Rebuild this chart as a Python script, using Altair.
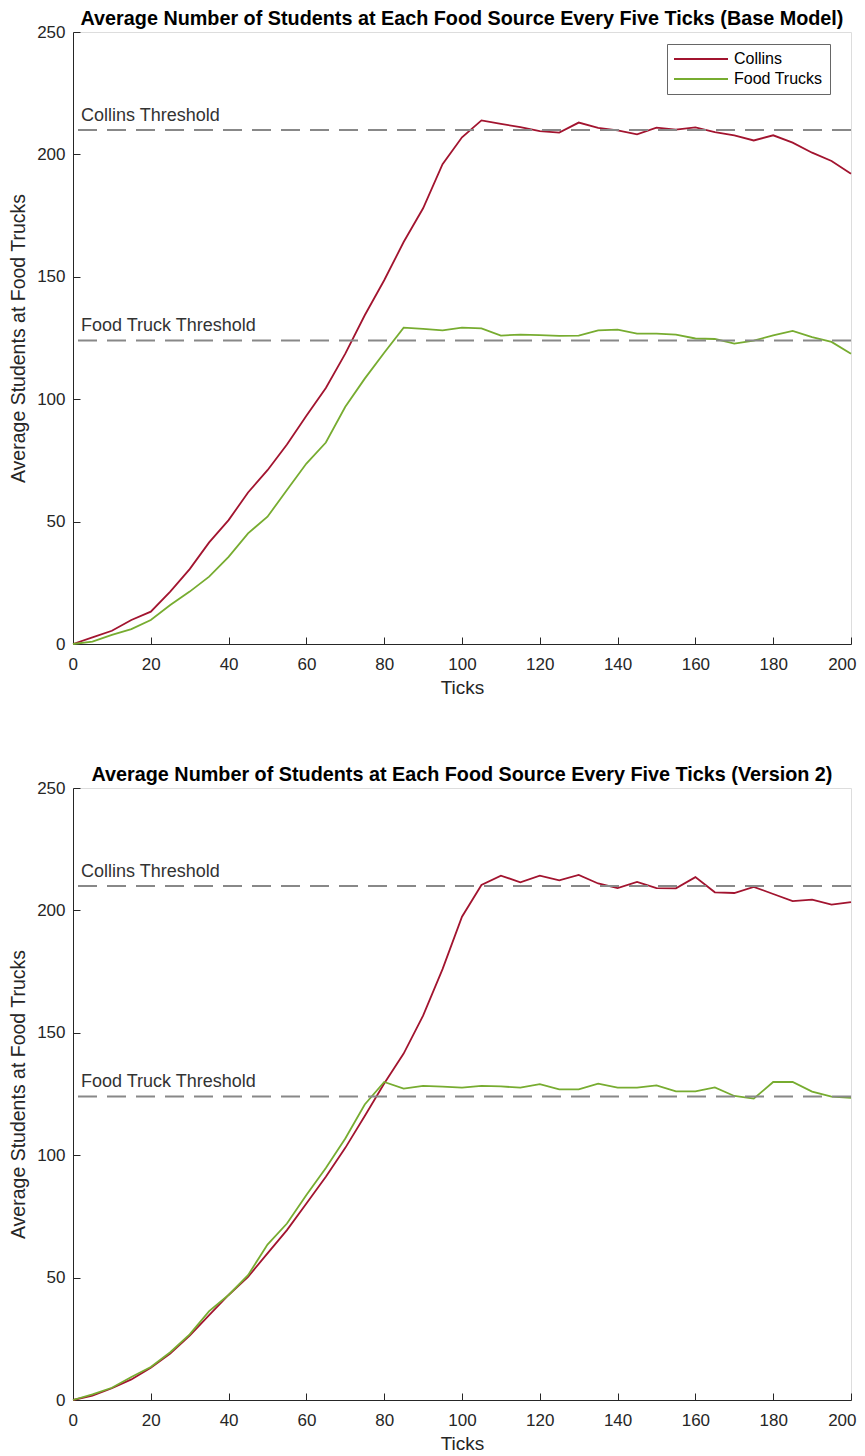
import altair as alt
import pandas as pd

# ---------------- data ----------------
ticks = [0, 5, 10, 15, 20, 25, 30, 35, 40, 45, 50, 55, 60, 65, 70, 75, 80, 85, 90, 95, 100,
         105, 110, 115, 120, 125, 130, 135, 140, 145, 150, 155, 160, 165, 170, 175, 180,
         185, 190, 195, 200]

base_collins = [0, 2.7, 5.4, 9.8, 13.2, 21.4, 30.6, 41.5, 50.6, 61.9, 71.0, 81.5, 93.2, 104.6,
                118.6, 134.3, 148.6, 164.2, 178.0, 196.0, 207.0, 213.9, 212.5, 211.1, 209.5,
                208.9, 213.0, 210.8, 209.8, 208.2, 210.9, 210.1, 211.0, 209.1, 207.8, 205.7,
                207.8, 204.8, 200.7, 197.3, 192.1]
base_trucks = [0, 1.0, 3.7, 6.1, 9.8, 15.9, 21.4, 27.5, 35.6, 45.2, 52.0, 62.9, 73.7, 82.3,
               96.9, 108.4, 119.0, 129.2, 128.7, 128.1, 129.2, 128.9, 126.0, 126.4, 126.2,
               125.9, 126.0, 128.1, 128.4, 126.8, 126.8, 126.4, 124.8, 124.6, 122.7, 123.9,
               126.1, 127.9, 125.4, 123.4, 118.6]

v2_collins = [0, 1.8, 4.8, 8.4, 13.2, 19.0, 26.3, 34.7, 42.9, 50.3, 59.9, 69.4, 80.3, 91.2,
              103.0, 116.0, 129.3, 141.5, 157.0, 176.0, 197.4, 210.4, 214.2, 211.5, 214.2,
              212.3, 214.5, 211.0, 209.1, 211.6, 209.1, 209.0, 213.6, 207.4, 207.1, 209.6,
              206.7, 203.8, 204.4, 202.4, 203.4]
v2_trucks = [0, 2.3, 5.0, 9.4, 13.5, 19.5, 26.8, 36.3, 42.9, 51.0, 63.5, 72.1, 83.7, 94.8,
             106.8, 120.7, 129.9, 127.2, 128.3, 128.0, 127.6, 128.3, 128.1, 127.6, 129.0,
             126.9, 126.9, 129.2, 127.6, 127.6, 128.5, 126.1, 126.1, 127.7, 124.2, 123.1,
             129.9, 129.9, 126.0, 123.9, 123.4]

series_names = ["Collins", "Food Trucks"]
series_colors = ["#A2142F", "#77AC30"]

threshold_values = [210, 124]
threshold_labels = ["Collins Threshold", "Food Truck Threshold"]
threshold_label_x = [0, 0]

x_tick_values = [0, 20, 40, 60, 80, 100, 120, 140, 160, 180, 200]
y_tick_values = [0, 50, 100, 150, 200, 250]

panel_titles = [
    "Average Number of Students at Each Food Source Every Five Ticks (Base Model)",
    "Average Number of Students at Each Food Source Every Five Ticks (Version 2)",
]

# ---------------- styling ----------------
FONT = "Liberation Sans"
W, H = 778, 612
AXIS_COLOR = "#262626"


def panel(title, collins, trucks):
    n = len(ticks)
    df = pd.DataFrame({
        "tick": ticks + ticks,
        "value": collins + trucks,
        "series": [series_names[0]] * n + [series_names[1]] * n,
    })
    thr = pd.DataFrame({"y": threshold_values, "label": threshold_labels,
                        "x": threshold_label_x})

    xs = alt.Scale(domain=[0, 200], nice=False, zero=False)
    ys = alt.Scale(domain=[0, 250], nice=False)

    lines = alt.Chart(df).mark_line(strokeWidth=1.8).encode(
        x=alt.X("tick:Q", scale=xs, axis=alt.Axis(
            values=x_tick_values, title="Ticks", ticks=False, grid=False,
            labelFont=FONT, labelFontSize=17, labelColor=AXIS_COLOR, labelPadding=12.5,
            labelFlush=True, labelFlushOffset=5,
            titleFont=FONT, titleFontSize=19, titleFontWeight="normal",
            titleColor=AXIS_COLOR, titlePadding=5.5,
            domainColor=AXIS_COLOR, domainWidth=1)),
        y=alt.Y("value:Q", scale=ys, axis=alt.Axis(
            values=y_tick_values, title="Average Students at Food Trucks", ticks=False,
            grid=False, labelFont=FONT, labelFontSize=17, labelColor=AXIS_COLOR,
            labelPadding=8, titleFont=FONT, titleFontSize=19.5, titleFontWeight="normal",
            titleColor=AXIS_COLOR, titlePadding=8,
            domainColor=AXIS_COLOR, domainWidth=1, labelFlush=False)),
        color=alt.Color("series:N", scale=alt.Scale(domain=series_names, range=series_colors),
                        legend=alt.Legend(
                            title=None, orient="none", legendX=594, legendY=12,
                            direction="vertical",
                            symbolType="M-3.857,0L3.857,0", symbolSize=196,
                            symbolStrokeWidth=2, symbolOffset=19, labelOffset=25,
                            labelFont=FONT, labelFontSize=16, labelColor="#000000",
                            labelExpr="datum.label == 'Food Trucks' ? '\u00a0' + datum.label + '\u00a0' : datum.label",
                            strokeColor="#666666", fillColor="white", padding=7,
                            rowPadding=4, labelLimit=300)),
    )

    rules = alt.Chart(thr).mark_rule(color="#888888", strokeWidth=2,
                                     strokeDash=[19, 10]).encode(
        y=alt.Y("y:Q", scale=ys, axis=alt.Axis(
            orient="right", offset=-W, values=y_tick_values, labels=False,
            domain=False, ticks=True, tickSize=7, tickColor=AXIS_COLOR,
            tickWidth=1, grid=False, title=None)),
    )

    labels = alt.Chart(thr).mark_text(align="left", baseline="alphabetic", dx=8, dy=-9,
                                      font=FONT, fontSize=18, color="#333333").encode(
        x=alt.X("x:Q", scale=xs, axis=alt.Axis(
            orient="top", offset=-H, values=x_tick_values, labels=False,
            domain=False, ticks=True, tickSize=7, tickColor=AXIS_COLOR,
            tickWidth=1, grid=False, title=None)),
        y=alt.Y("y:Q", scale=ys, axis=None),
        text="label:N",
    )

    return alt.layer(lines, rules, labels).resolve_axis(
        x="independent", y="independent"
    ).properties(
        width=W, height=H,
        title=alt.TitleParams(title, font=FONT, fontSize=19.8, fontWeight="bold",
                              color="#000000", anchor="middle", frame="group",
                              offset=-5.5),
    )


top = panel(panel_titles[0], base_collins, base_trucks)
bottom = panel(panel_titles[1], v2_collins, v2_trucks)

chart = alt.vconcat(top, bottom, spacing=66).properties(
    padding={"left": 0, "top": 0, "right": 0, "bottom": 0}
).configure_view(stroke=None).configure(background="white")

chart.save("out.html", embed_options={"renderer": "svg", "actions": False})
